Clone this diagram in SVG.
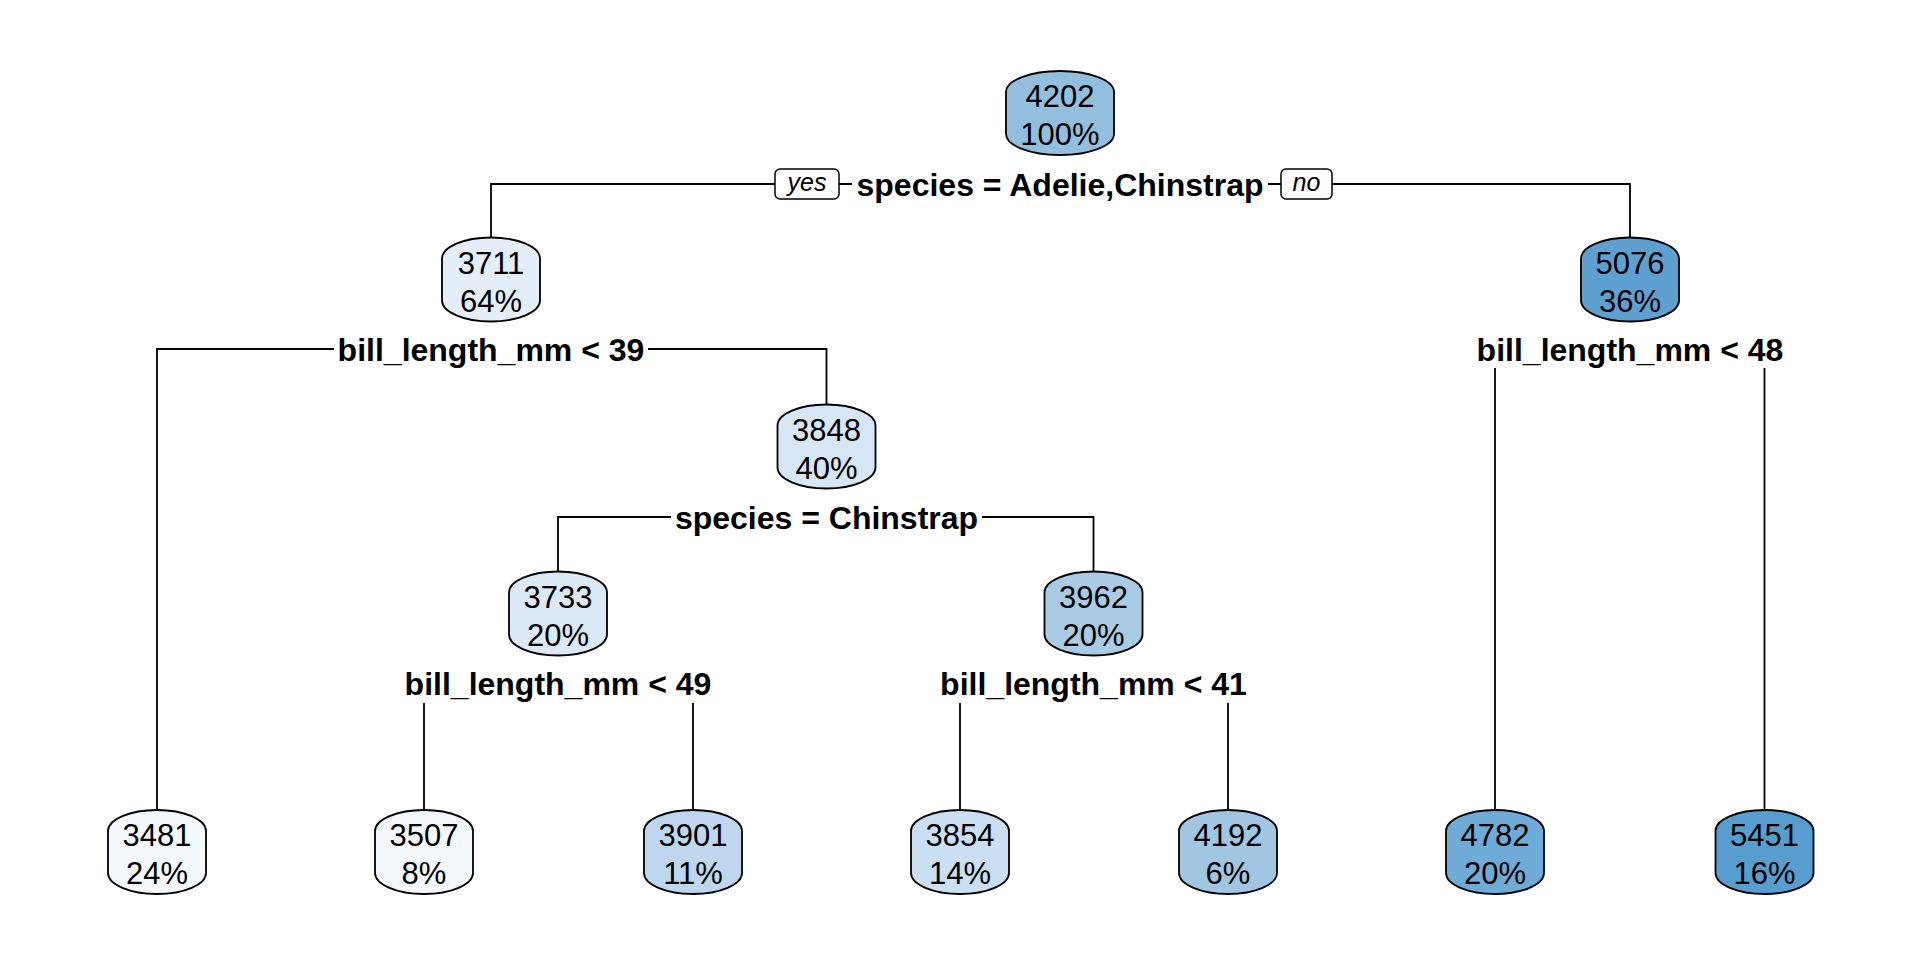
<svg xmlns="http://www.w3.org/2000/svg" xmlns:xlink="http://www.w3.org/1999/xlink" width="1920" height="960" viewBox="0 0 1920 960">
<defs>
<style>
.box{stroke:#000;stroke-width:1.8}
.nt{font-family:"Liberation Sans",Arial,sans-serif;font-size:31px;text-anchor:middle;fill:#000}
.sl{font-family:"Liberation Sans",Arial,sans-serif;font-size:32px;font-weight:bold;text-anchor:middle;fill:#000}
.yn{font-family:"Liberation Sans",Arial,sans-serif;font-size:25px;font-style:italic;text-anchor:middle;fill:#000}
.ln{fill:none;stroke:#000;stroke-width:1.8}
.ynb{fill:#fff;stroke:#000;stroke-width:1.5}
</style>
<path id="s98" d="M-49,21 C-49,9.4 -27,0 0,0 C27,0 49,9.4 49,21 L49,63 C49,74.6 27,84 0,84 C-27,84 -49,74.6 -49,63 Z"/>
<path id="s108" d="M-54,21 C-54,9.4 -29.8,0 0,0 C29.8,0 54,9.4 54,21 L54,63 C54,74.6 29.8,84 0,84 C-29.8,84 -54,74.6 -54,63 Z"/>
</defs>
<rect width="1920" height="960" fill="#fff"/>
<g id="connectors">
<path class="ln" d="M775,184 H491 V237.5 M839,184 H852 M1268,184 H1281 M1332,184 H1630 V237.5"/>
<path class="ln" d="M334,349 H157 V810 M648,349 H826.5 V404.5"/>
<path class="ln" d="M1495,368 V810 M1764.5,368 V810"/>
<path class="ln" d="M671,517 H558 V571.5 M982,517 H1093.5 V571.5"/>
<path class="ln" d="M424,703 V810 M693,703 V810 M960,703 V810 M1228,703 V810"/>
<rect class="ynb" x="775" y="169" width="64" height="30" rx="5"/>
<text class="yn" x="807" y="191">yes</text>
<rect class="ynb" x="1281" y="169" width="51" height="30" rx="5"/>
<text class="yn" x="1306.5" y="191">no</text>
</g>
<g id="labels">
<text class="sl" x="1060" y="195.5">species = Adelie,Chinstrap</text>
<text class="sl" x="491" y="360.5">bill_length_mm &lt; 39</text>
<text class="sl" x="1630" y="360.5">bill_length_mm &lt; 48</text>
<text class="sl" x="826.5" y="528.5">species = Chinstrap</text>
<text class="sl" x="558" y="695">bill_length_mm &lt; 49</text>
<text class="sl" x="1093.5" y="695">bill_length_mm &lt; 41</text>
</g>
<g id="n1" transform="translate(1060,71)"><use xlink:href="#s108" class="box" fill="#91BFDD"/><text class="nt" y="36">4202</text><text class="nt" y="74">100%</text></g>
<g id="n2" transform="translate(491,237.5)"><use xlink:href="#s98" class="box" fill="#E4EEF9"/><text class="nt" y="36">3711</text><text class="nt" y="74">64%</text></g>
<g id="n3" transform="translate(1630,237.5)"><use xlink:href="#s98" class="box" fill="#5EA1D0"/><text class="nt" y="36">5076</text><text class="nt" y="74">36%</text></g>
<g id="n5" transform="translate(826.5,404.5)"><use xlink:href="#s98" class="box" fill="#D7E6F4"/><text class="nt" y="36">3848</text><text class="nt" y="74">40%</text></g>
<g id="n6" transform="translate(558,571.5)"><use xlink:href="#s98" class="box" fill="#DBE8F5"/><text class="nt" y="36">3733</text><text class="nt" y="74">20%</text></g>
<g id="n7" transform="translate(1093.5,571.5)"><use xlink:href="#s98" class="box" fill="#AACBE4"/><text class="nt" y="36">3962</text><text class="nt" y="74">20%</text></g>
<g id="n4" transform="translate(157,810)"><use xlink:href="#s98" class="box" fill="#F4F9FE"/><text class="nt" y="36">3481</text><text class="nt" y="74">24%</text></g>
<g id="n12" transform="translate(424,810)"><use xlink:href="#s98" class="box" fill="#F3F8FD"/><text class="nt" y="36">3507</text><text class="nt" y="74">8%</text></g>
<g id="n13" transform="translate(693,810)"><use xlink:href="#s98" class="box" fill="#BFD7EE"/><text class="nt" y="36">3901</text><text class="nt" y="74">11%</text></g>
<g id="n14" transform="translate(960,810)"><use xlink:href="#s98" class="box" fill="#CADFF1"/><text class="nt" y="36">3854</text><text class="nt" y="74">14%</text></g>
<g id="n15" transform="translate(1228,810)"><use xlink:href="#s98" class="box" fill="#A0C6E2"/><text class="nt" y="36">4192</text><text class="nt" y="74">6%</text></g>
<g id="n6b" transform="translate(1495,810)"><use xlink:href="#s98" class="box" fill="#6EABD6"/><text class="nt" y="36">4782</text><text class="nt" y="74">20%</text></g>
<g id="n7b" transform="translate(1764.5,810)"><use xlink:href="#s98" class="box" fill="#579DCD"/><text class="nt" y="36">5451</text><text class="nt" y="74">16%</text></g>
</svg>
